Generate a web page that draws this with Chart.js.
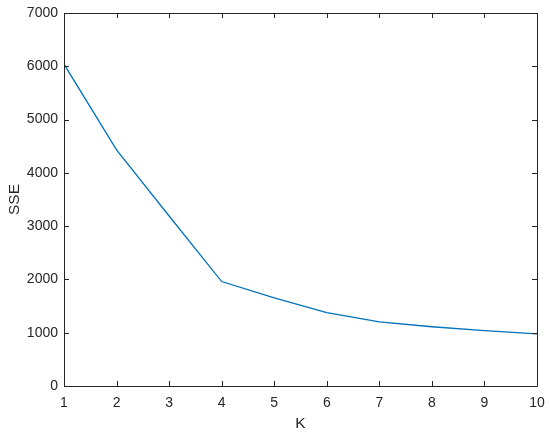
<!DOCTYPE html>
<html>
<head>
<meta charset="utf-8">
<script src="https://cdn.jsdelivr.net/npm/chart.js@4.4.1/dist/chart.umd.min.js"></script>
<style>
html,body{margin:0;padding:0;background:#fff;}
#wrap{width:550px;height:437px;position:relative;}
</style>
</head>
<body>
<div id="wrap"><canvas id="c" width="550" height="437"></canvas></div>
<script>
const kValues = [1, 2, 3, 4, 5, 6, 7, 8, 9, 10];
const sseValues = [6040, 4430, 3190, 1960, 1655, 1375, 1205, 1112, 1040, 978];
const xTicks = [1, 2, 3, 4, 5, 6, 7, 8, 9, 10];
const yTicks = [0, 1000, 2000, 3000, 4000, 5000, 6000, 7000];

const AX = '#262626';
const FONT = "'Liberation Sans', Arial, Helvetica, sans-serif";

const boxTicks = {
  id: 'boxTicks',
  afterDraw(chart) {
    const ctx = chart.ctx;
    const a = chart.chartArea;
    const xs = chart.scales.x, ys = chart.scales.y;
    const L = 5;
    ctx.save();
    ctx.strokeStyle = AX;
    ctx.lineWidth = 1;
    ctx.beginPath();
    ctx.rect(Math.round(a.left) + 0.5, Math.round(a.top) + 0.5, Math.round(a.right - a.left), Math.round(a.bottom - a.top));
    ctx.stroke();
    ctx.beginPath();
    xTicks.forEach(v => {
      const px = Math.round(xs.getPixelForValue(v)) + 0.5;
      ctx.moveTo(px, a.bottom); ctx.lineTo(px, a.bottom - L);
      ctx.moveTo(px, a.top); ctx.lineTo(px, a.top + L);
    });
    yTicks.forEach(v => {
      const py = Math.round(ys.getPixelForValue(v)) + 0.5;
      ctx.moveTo(a.left, py); ctx.lineTo(a.left + L, py);
      ctx.moveTo(a.right, py); ctx.lineTo(a.right - L, py);
    });
    ctx.stroke();
    ctx.restore();
  }
};

function zeroPad(s) { s.paddingLeft = 0; s.paddingRight = 0; s.paddingTop = 0; s.paddingBottom = 0; }

new Chart(document.getElementById('c'), {
  type: 'line',
  data: {
    datasets: [{
      data: kValues.map((k, i) => ({ x: k, y: sseValues[i] })),
      borderColor: '#0072BD',
      borderWidth: 1.3,
      pointRadius: 0,
      tension: 0,
      fill: false
    }]
  },
  options: {
    responsive: false,
    animation: false,
    devicePixelRatio: 1,
    layout: { padding: { top: 13, right: 13, left: 0, bottom: 0 } },
    plugins: { legend: { display: false }, tooltip: { enabled: false } },
    scales: {
      x: {
        type: 'linear',
        min: 1, max: 10,
        afterBuildTicks(s) { s.ticks = xTicks.map(v => ({ value: v })); },
        afterFit(s) { s.height = 51; zeroPad(s); },
        grid: { display: false, drawTicks: false },
        border: { display: false },
        ticks: { color: AX, font: { family: FONT, size: 14 }, padding: 9, maxRotation: 0, autoSkip: false },
        title: { display: true, text: 'K', color: AX, font: { family: FONT, size: 15.5 }, padding: { top: 0, bottom: 4 } }
      },
      y: {
        min: 0, max: 7000,
        afterBuildTicks(s) { s.ticks = yTicks.map(v => ({ value: v })); },
        afterFit(s) { s.width = 64; zeroPad(s); },
        grid: { display: false, drawTicks: false },
        border: { display: false },
        ticks: { color: AX, font: { family: FONT, size: 14 }, padding: 6, autoSkip: false, callback: v => String(v) },
        title: { display: true, text: 'SSE', color: AX, font: { family: FONT, size: 15.5 }, padding: { top: 5, bottom: 0 } }
      }
    }
  },
  plugins: [boxTicks]
});
</script>
</body>
</html>
